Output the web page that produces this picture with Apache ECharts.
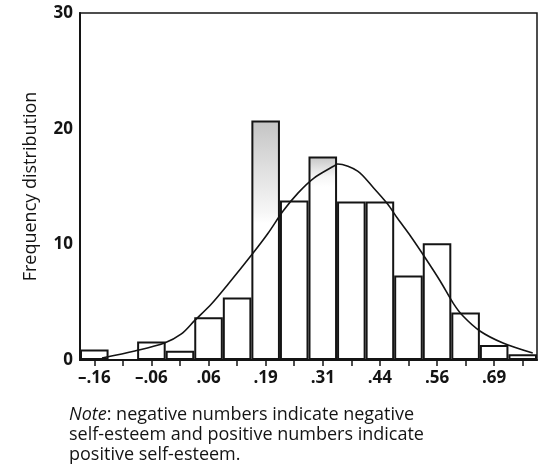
<!DOCTYPE html>
<html>
<head>
<meta charset="utf-8">
<script src="https://cdn.jsdelivr.net/npm/echarts@6/dist/echarts.min.js"></script>
<style>
  html, body { margin: 0; padding: 0; background: #fff; }
  #chart { width: 549px; height: 471px; }
</style>
</head>
<body>
<div id="chart"></div>
<script>
// bins of the self-esteem score, labelled on every other bin
const binLabels = ['–.16', '', '–.06', '', '.06', '', '.19', '', '.31', '', '.44', '', '.56', '', '.69', '']
const binCounts = [0.9, null, 1.6, 0.8, 3.7, 5.4, 20.7, 13.8, 17.6, 13.7, 13.7, 7.3, 10.1, 4.1, 1.3, 0.5]

// fitted normal curve (x in bin units from the left edge)
const curveX = [0.77, 1.92, 2.96, 3.55, 4.01, 4.6, 5.19, 6.06, 6.59, 7.11, 7.63, 8.19, 8.89, 9.02, 9.72,
  10.28, 10.77, 11.11, 11.57, 12.09, 12.61, 13.07, 13.41, 14.0, 14.81, 15.85]
const curveY = [0.17, 0.78, 1.47, 2.25, 3.4, 4.84, 6.57, 9.25, 10.98, 12.88, 14.43, 15.73, 16.77, 16.94, 16.33,
  14.87, 13.48, 12.27, 10.72, 8.82, 6.83, 4.9, 3.8, 2.51, 1.47, 0.6]

const yTicks = [0, 10, 20, 30]

const ink = '#141414'
const font = '"Open Sans", "DejaVu Sans", sans-serif'

const chart = echarts.init(document.getElementById('chart'), null, { renderer: 'canvas' })

const barData = binCounts.map((v, i) => {
  if (v == null) return '-'
  // the tallest bars carry a light grey stipple above the curve
  if (i === 6 || i === 8) {
    const stop = i === 6 ? 0.38 : 0.1
    return {
      value: v,
      itemStyle: {
        color: new echarts.graphic.LinearGradient(0, 0, 0, 1, [
          { offset: 0, color: '#c4c4c4' },
          { offset: stop * 0.5, color: '#dedede' },
          { offset: stop, color: '#f6f6f6' },
          { offset: Math.min(1, stop + 0.05), color: '#fff' },
          { offset: 1, color: '#fff' }
        ])
      }
    }
  }
  return v
})

chart.setOption({
  animation: false,
  backgroundColor: '#fff',
  grid: {
    left: 80, right: 12, top: 13, bottom: 111,
    show: true, borderColor: ink, borderWidth: 1.5, backgroundColor: 'transparent'
  },
  title: {
    left: 64, top: 400, padding: 5,
    text: '{i|Note}: negative numbers indicate negative\nself-esteem and positive numbers indicate\npositive self-esteem.',
    textStyle: {
      fontFamily: font, fontSize: 18, fontWeight: 'normal', color: ink, lineHeight: 20,
      rich: { i: { fontFamily: font, fontSize: 18, fontStyle: 'italic', color: ink, lineHeight: 20 } }
    }
  },
  xAxis: [{
    type: 'category', data: binLabels, boundaryGap: true,
    axisLine: { lineStyle: { color: ink, width: 2 } },
    axisTick: { show: true, alignWithLabel: true, interval: 0, length: 6, lineStyle: { color: ink, width: 1.5 } },
    axisLabel: { interval: 0, margin: 10, color: ink, fontFamily: font, fontWeight: 'bold', fontSize: 17 },
    splitLine: { show: false }
  }, {
    type: 'value', min: 0, max: 16, show: false
  }],
  yAxis: {
    type: 'value', min: 0, max: 30, interval: 10,
    name: 'Frequency distribution', nameLocation: 'middle', nameGap: 40,
    nameTextStyle: { fontFamily: font, fontSize: 18, color: ink },
    axisLine: { show: true, lineStyle: { color: ink, width: 2 } },
    axisTick: { show: false },
    axisLabel: {
      margin: 7, color: ink, fontFamily: font, fontWeight: 'bold', fontSize: 17,
      formatter: v => yTicks.includes(v) ? String(v) : ''
    },
    splitLine: { show: false }
  },
  series: [{
    type: 'bar', data: barData, barWidth: '100%', barGap: '0%',
    itemStyle: { color: '#fff', borderColor: ink, borderWidth: 2 }
  }, {
    type: 'line', xAxisIndex: 1, smooth: 0.3, symbol: 'none',
    data: curveX.map((x, i) => [x, curveY[i]]),
    lineStyle: { color: ink, width: 1.6 },
    z: 5
  }]
})
</script>
</body>
</html>
